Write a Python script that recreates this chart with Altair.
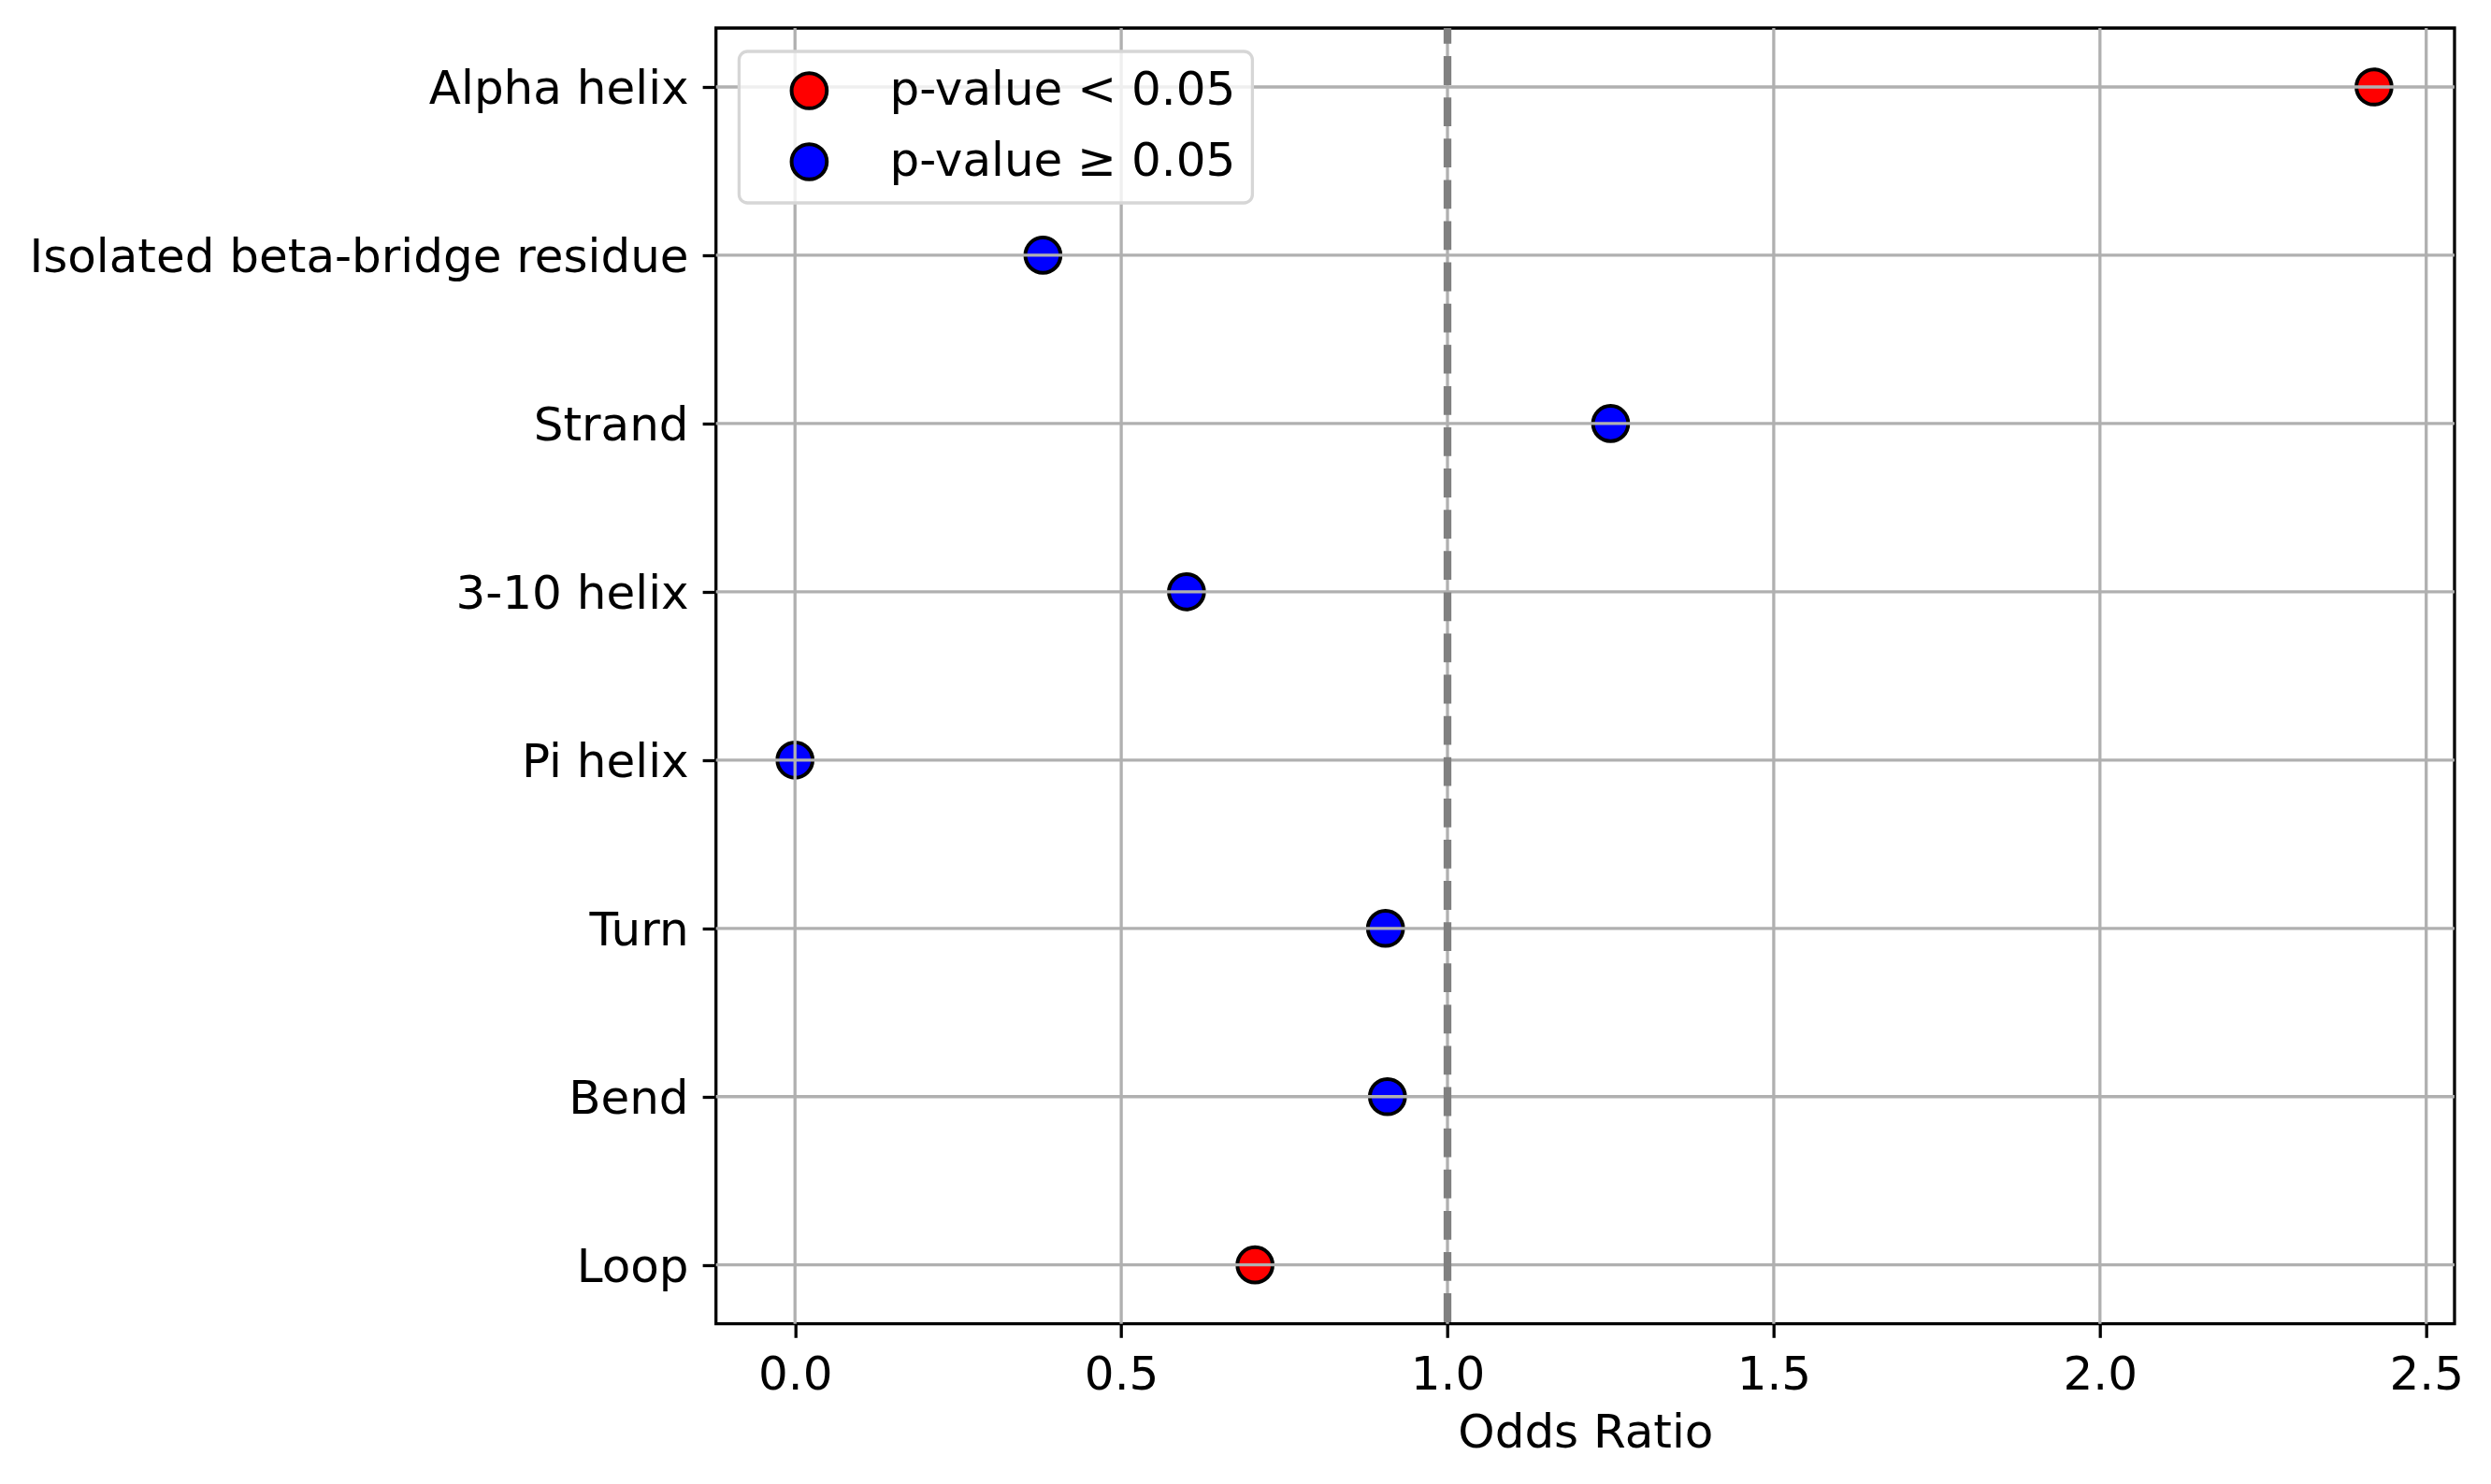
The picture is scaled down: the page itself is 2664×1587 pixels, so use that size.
import altair as alt
import pandas as pd

categories = ["Alpha helix", "Isolated beta-bridge residue", "Strand", "3-10 helix",
              "Pi helix", "Turn", "Bend", "Loop"]
odds_ratio = [2.42, 0.38, 1.25, 0.60, 0.0, 0.905, 0.908, 0.705]
significance = ["p-value < 0.05", "p-value ≥ 0.05", "p-value ≥ 0.05", "p-value ≥ 0.05",
                "p-value ≥ 0.05", "p-value ≥ 0.05", "p-value ≥ 0.05", "p-value < 0.05"]
legend_labels = ["p-value < 0.05", "p-value ≥ 0.05"]
legend_colors = ["#ff0000", "#0000ff"]
x_ticks = [0.0, 0.5, 1.0, 1.5, 2.0, 2.5]
reference_line = [1.0]
x_domain = [-0.1211, 2.5434]

FONT = "DejaVu Sans"
W, H = 1859.3, 1385.7

df = pd.DataFrame({"category": categories, "odds": odds_ratio, "sig": significance})
grid_x = pd.DataFrame({"x": x_ticks})
grid_y = pd.DataFrame({"category": categories})
ref = pd.DataFrame({"x": reference_line})

xscale = alt.Scale(domain=x_domain, nice=False, zero=False)
yscale = alt.Scale(domain=categories, type="point", padding=0.35)

points = alt.Chart(df).mark_circle(size=1420, opacity=1, stroke="black", strokeWidth=4).encode(
    x=alt.X("odds:Q", scale=xscale,
            axis=alt.Axis(values=x_ticks, format=".1f", title="Odds Ratio")),
    y=alt.Y("category:N", scale=yscale, sort=categories,
            axis=alt.Axis(title=None, labelOffset=3)),
    color=alt.Color("sig:N",
                    scale=alt.Scale(domain=legend_labels, range=legend_colors),
                    legend=alt.Legend(title=None, orient="none", legendX=24.7, legendY=25,
                                      symbolType="circle", symbolSize=1420,
                                      symbolStrokeColor="black", symbolStrokeWidth=4,
                                      symbolOffset=33, labelOffset=61, labelLimit=0,
                                      labelFont=FONT, labelFontSize=50, labelColor="black",
                                      rowPadding=22, padding=17,
                                      fillColor="rgba(255,255,255,0.8)",
                                      strokeColor="#d6d6d6", cornerRadius=9)),
)

vgrid = alt.Chart(grid_x).mark_rule(color="#b0b0b0", strokeWidth=3.3).encode(
    x=alt.X("x:Q", scale=xscale))
hgrid = alt.Chart(grid_y).mark_rule(color="#b0b0b0", strokeWidth=3.3).encode(
    y=alt.Y("category:N", scale=yscale, sort=categories))
dashed = alt.Chart(ref).mark_rule(color="#808080", strokeWidth=8.3,
                                  strokeDash=[30.8, 13.3], strokeDashOffset=14).encode(
    x=alt.X("x:Q", scale=xscale))

chart = alt.layer(points, vgrid, hgrid, dashed).properties(
    width=W, height=H,
    autosize=alt.AutoSizeParams(type="none"),
    padding={"left": 757.7, "top": 22, "right": 31, "bottom": 163},
    background="white",
).configure_view(
    stroke="black", strokeWidth=3.3
).configure_axis(
    labelFont=FONT, labelFontSize=50, labelColor="black", labelLimit=0,
    titleFont=FONT, titleFontSize=50, titleFontWeight="normal", titleColor="black",
    tickColor="black", tickWidth=3.3, tickSize=14.6, labelPadding=15,
    domain=False, grid=False, titlePadding=12
).configure_legend(
    strokeWidth=3.3
)

chart.save("out.html", embed_options={"renderer": "svg", "actions": False})
